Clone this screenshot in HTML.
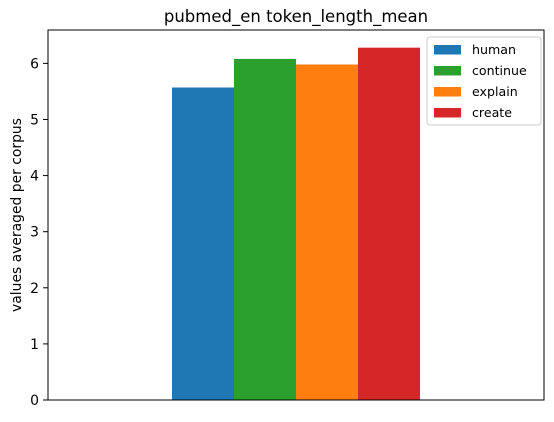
<!DOCTYPE html>
<html><head><meta charset="utf-8"><style>
body{margin:0;background:#fff;font-family:"DejaVu Sans","Liberation Sans",sans-serif;}
</style></head><body>
<svg id="chart" width="554" height="418" xmlns="http://www.w3.org/2000/svg" font-family="DejaVu Sans, Liberation Sans, sans-serif">
<text x="296" y="22" text-anchor="middle" font-size="16.5">pubmed_en token_length_mean</text>
<text transform="translate(21,215) rotate(-90)" text-anchor="middle" font-size="13.9">values averaged per corpus</text>
<g id="ticks"></g><g id="bars"></g>
<rect x="48" y="30" width="496" height="370" fill="none" stroke="#000" stroke-width="1"/>
<g id="legend"></g>
</svg>
<script>
const categories = ["human","continue","explain","create"];
const values = [5.57, 6.08, 5.98, 6.28];
const colors = ["#1f77b4","#2ca02c","#ff7f0e","#d62728"];
const yTicks = [0,1,2,3,4,5,6];
const NS="http://www.w3.org/2000/svg";
const x0=48,x1=544,yb=400,yt=30,ymax=6.595;
const y=v=>yb-(v/ymax)*(yb-yt);
const bw=62, start=296-bw*categories.length/2;
const xb=i=>start+i*bw;
function mk(t,a){const e=document.createElementNS(NS,t);for(const k in a)e.setAttribute(k,a[k]);return e;}
const tg=document.getElementById('ticks');
yTicks.forEach(t=>{
  const l=mk('line',{x1:x0-5,x2:x0,y1:y(t),y2:y(t),stroke:'#000'});
  
  
  tg.appendChild(l);
  const tx=mk('text',{x:x0-9,y:y(t)+5,'text-anchor':'end','font-size':13.9});
  
  
  tx.textContent=t;tg.appendChild(tx);
});
const bg=document.getElementById('bars');
values.forEach((v,i)=>{
  const r=mk('rect',{x:xb(i),y:y(v),width:bw,height:yb-y(v),fill:colors[i]});
  
  
  bg.appendChild(r);
});
const lg=document.getElementById('legend');
const box=mk('rect',{x:427,y:37,width:114,height:88,rx:3,fill:'#fff','fill-opacity':0.8,stroke:'#ccc'});


lg.appendChild(box);
categories.forEach((c,i)=>{
  const yy=49+i*21;
  const s=mk('rect',{x:434,y:yy-4,width:27,height:9.5,fill:colors[i]});
  
  
  lg.appendChild(s);
  const t=mk('text',{x:472,y:yy+5,'font-size':12.6});
  
  
  t.textContent=c;lg.appendChild(t);
});
</script>
</body></html>
